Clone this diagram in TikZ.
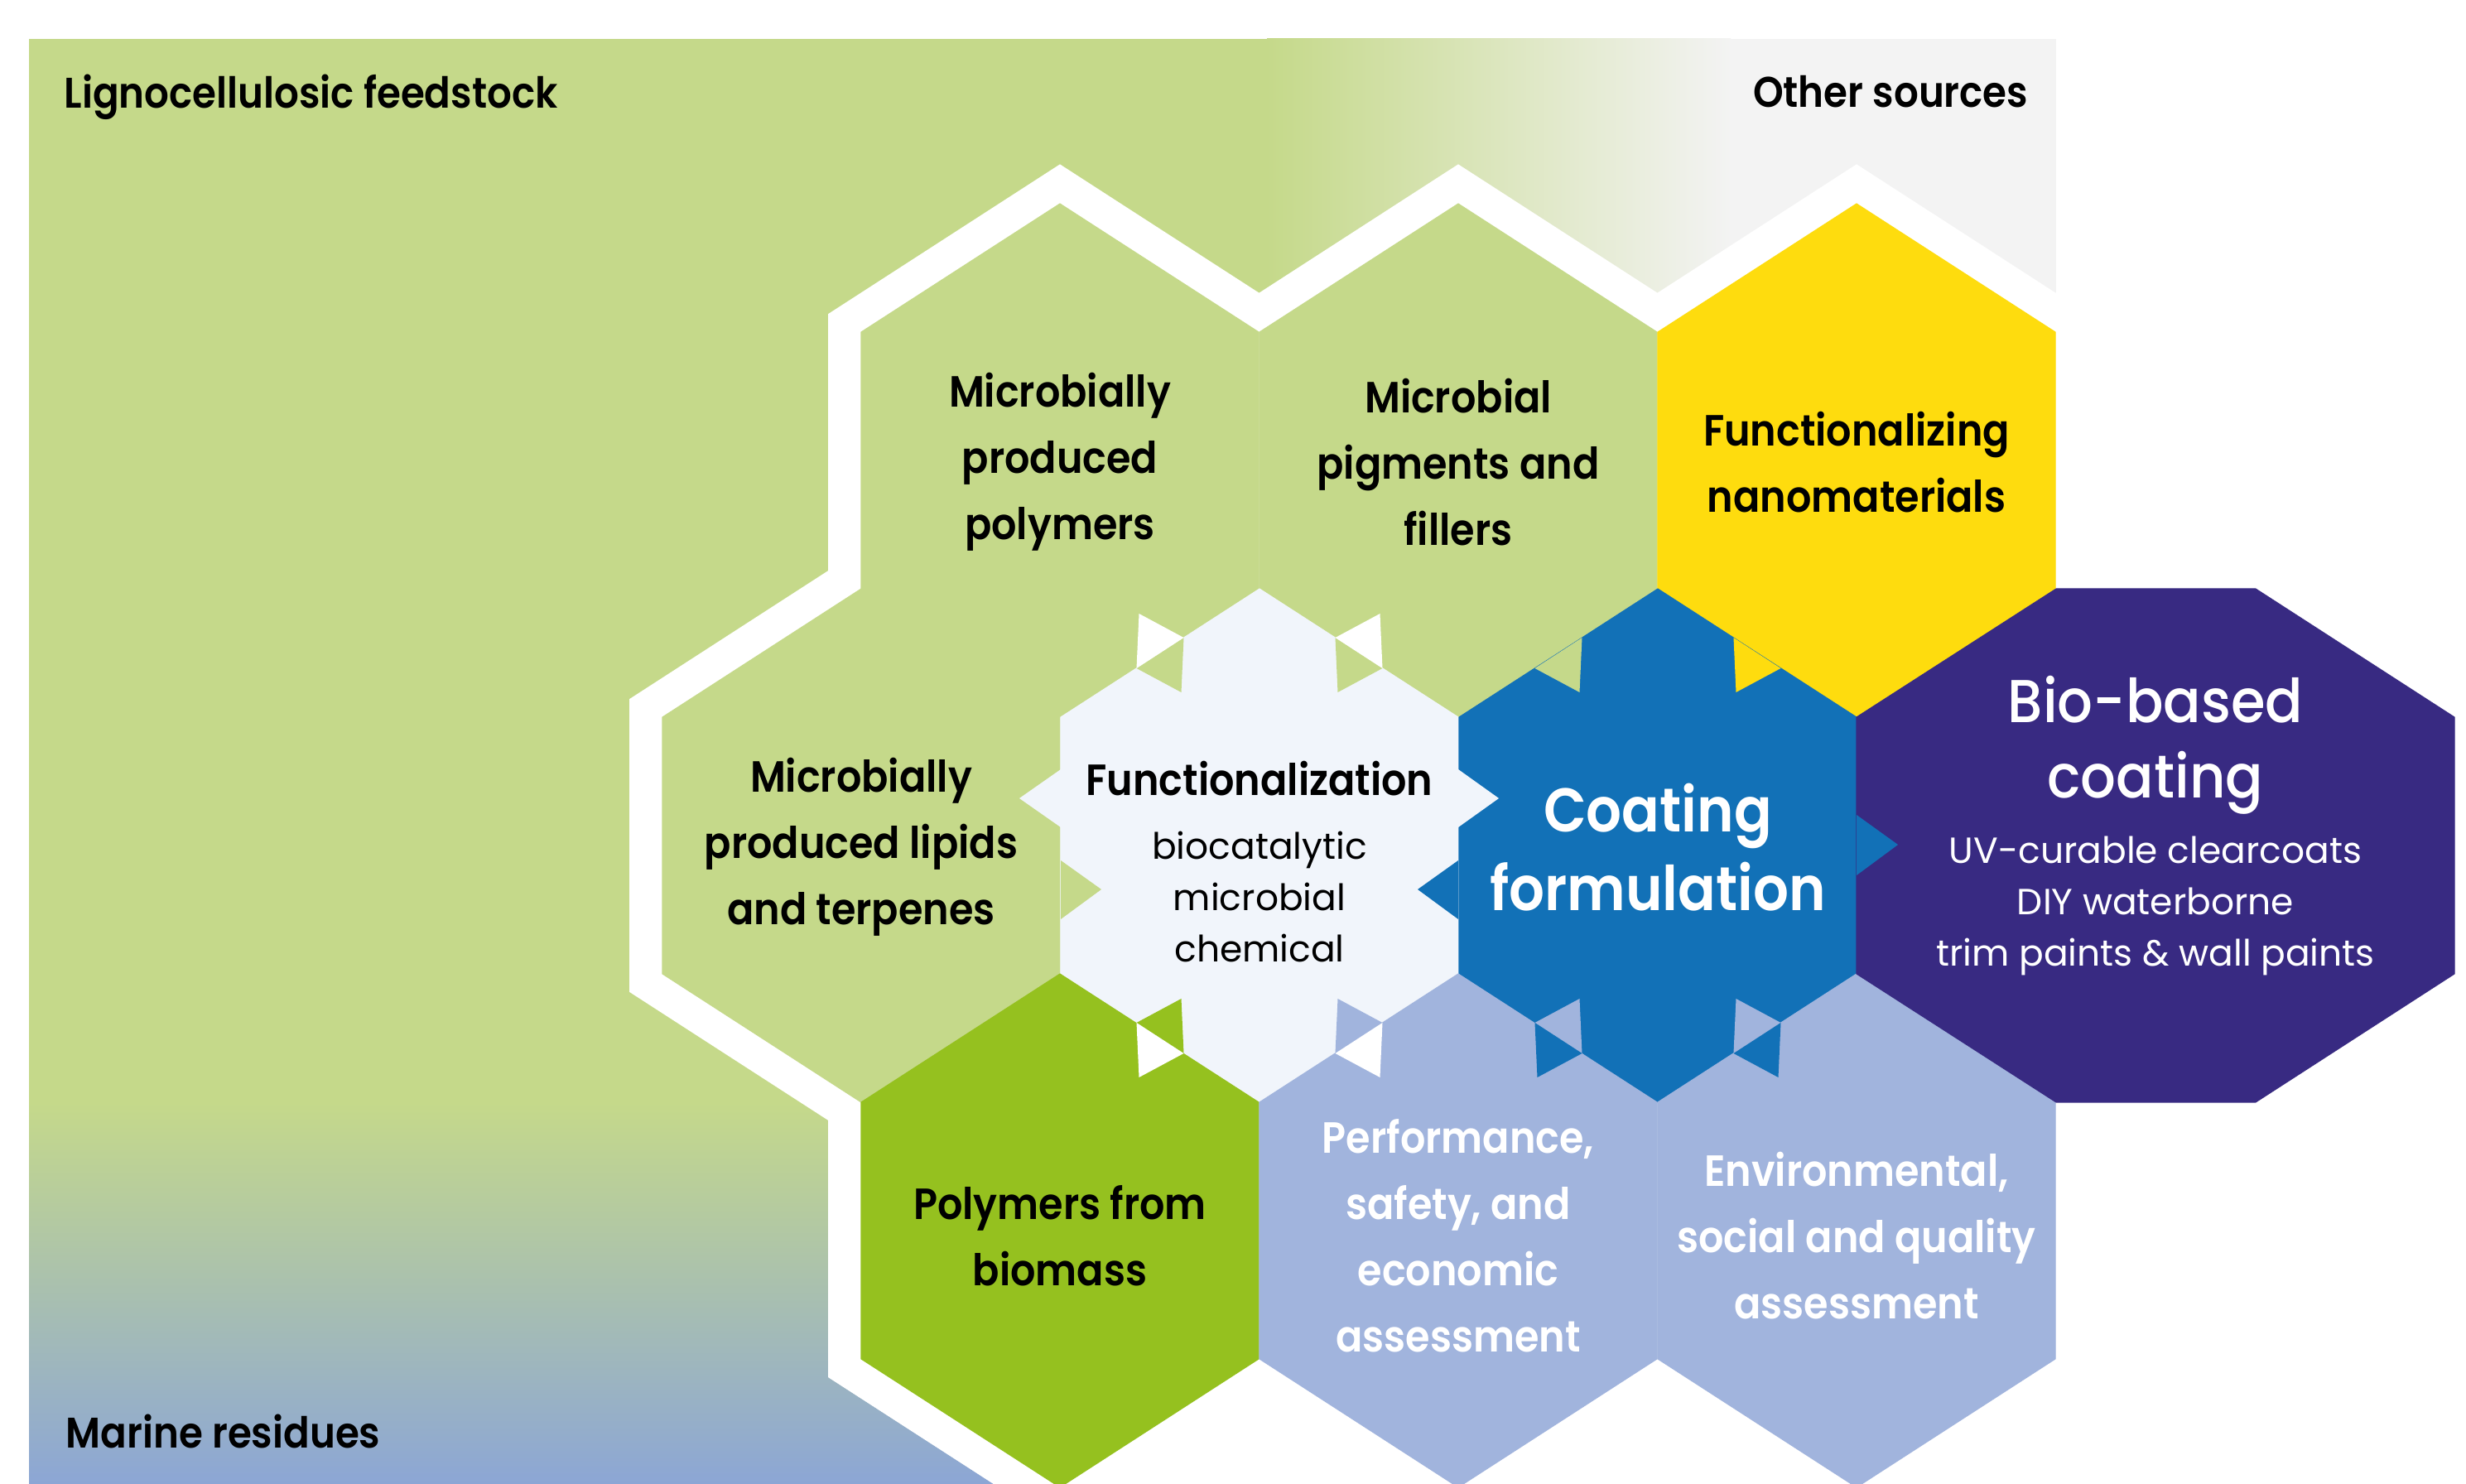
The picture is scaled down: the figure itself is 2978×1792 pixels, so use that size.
\documentclass[tikz,border=0pt]{standalone}
\usepackage{fontspec}
\setmainfont{Poppins}
\newfontfamily\poppinsSemi{Poppins SemiBold}[FakeStretch=0.905]
\newfontfamily\poppinsMed{Poppins Medium}[FakeStretch=0.92]
\usepackage{xcolor}
\usepackage{tikz}
\definecolor{leafgreen}{HTML}{C5D98A}
\definecolor{greyzone}{HTML}{F3F3F3}
\definecolor{seablue}{HTML}{8CA6D5}
\definecolor{limegreen}{HTML}{95C11F}
\definecolor{sunyellow}{HTML}{FEDC0E}
\definecolor{coatblue}{HTML}{1271B7}
\definecolor{deepviolet}{HTML}{382A82}
\definecolor{paleblue}{HTML}{A1B4DD}
\definecolor{paleface}{HTML}{F1F5FB}

\begin{document}
\begin{tikzpicture}[x=0.1mm, y=-0.1mm,
  halo/.style={draw=white, line width=8mm, line join=miter},
  cornerlbl/.style={font=\poppinsSemi\fontsize{14.7}{18}\selectfont, inner sep=0pt},
  hexlbl/.style={font=\poppinsSemi\fontsize{15}{22.8}\selectfont, align=center, inner sep=0pt},
  bodylbl/.style={font=\fontsize{12.5}{17.6}\selectfont, align=center, inner sep=0pt},
  biglbl/.style={font=\poppinsSemi\fontsize{21.2}{27}\selectfont, align=center, inner sep=0pt, text=white}]
\useasboundingbox (0,0) rectangle (2978,1792);
\fill[white] (0,0) rectangle (2978,1792);
\fill[leafgreen] (35,47) rectangle (2483,1792);
\shade[left color=leafgreen, right color=greyzone] (1530,47) rectangle (2090,1000);
\fill[greyzone] (2089,47) rectangle (2483,1000);
\shade[top color=leafgreen, bottom color=seablue] (35,1330) rectangle (1300,1792);
\fill[white] (1000,1330) -- (1000,1663) -- (1200,1792) -- (2978,1792) -- (2978,1330) -- cycle;
\node[cornerlbl, anchor=base west] (lignoLbl) at (77,131) {Lignocellulosic feedstock};
\node[cornerlbl, anchor=base east] (otherLbl) at (2450,130) {Other sources};
\node[cornerlbl, anchor=base west] (marineLbl) at (79,1748) {Marine residues};
\foreach \cx/\cy in {1280/556, 1761/556, 2242/556, 1040/1021, 1521/1021, 2002/1021, 1280/1486, 1761/1486, 2242/1486}
  \draw[halo] (\cx,\cy-310) -- (\cx+240,\cy-155) -- (\cx+240,\cy+155) -- (\cx,\cy+310) -- (\cx-240,\cy+155) -- (\cx-240,\cy-155) -- cycle;
\foreach \cx/\cy/\hcol in {1280/556/leafgreen, 1761/556/leafgreen, 2242/556/sunyellow, 1040/1021/leafgreen, 1521/1021/paleface, 2002/1021/coatblue, 1280/1486/limegreen, 1761/1486/paleblue, 2242/1486/paleblue}
  \filldraw[fill=\hcol, draw=\hcol, line width=0.3pt] (\cx,\cy-310) -- (\cx+240,\cy-155) -- (\cx+240,\cy+155) -- (\cx,\cy+310) -- (\cx-240,\cy+155) -- (\cx-240,\cy-155) -- cycle;
\filldraw[fill=deepviolet, draw=deepviolet, line width=0.3pt] (2242,866) -- (2483,711) -- (2724,711) -- (2964,866) -- (2964,1176) -- (2724,1331) -- (2483,1331) -- (2242,1176) -- cycle;
% tabs round the functionalization hex
\fill[leafgreen] (1429.5,770) -- (1372.5,807) -- (1426.5,836) -- cycle;
\fill[white] (1429.5,770) -- (1372.5,807) -- (1375.5,741) -- cycle;
\fill[leafgreen] (1612.5,770) -- (1669.5,807) -- (1615.5,836) -- cycle;
\fill[white] (1612.5,770) -- (1669.5,807) -- (1666.5,741) -- cycle;
\fill[limegreen] (1429.5,1272) -- (1372.5,1235) -- (1426.5,1206) -- cycle;
\fill[white] (1429.5,1272) -- (1372.5,1235) -- (1375.5,1301) -- cycle;
\fill[paleblue] (1612.5,1272) -- (1669.5,1235) -- (1615.5,1206) -- cycle;
\fill[white] (1612.5,1272) -- (1669.5,1235) -- (1666.5,1301) -- cycle;
\fill[paleface] (1281,929) -- (1231,964) -- (1281,999) -- cycle;
\fill[leafgreen] (1281,1039) -- (1330,1074) -- (1281,1110) -- cycle;
\fill[paleface] (1761,929) -- (1810,964) -- (1761,999) -- cycle;
\fill[coatblue] (1761,1039) -- (1712,1074) -- (1761,1110) -- cycle;
% tabs round the coating hex
\fill[leafgreen] (1910.5,770) -- (1853.5,807) -- (1907.5,836) -- cycle;
\fill[sunyellow] (2093.5,770) -- (2150.5,807) -- (2096.5,836) -- cycle;
\fill[paleblue] (1910.5,1272) -- (1853.5,1235) -- (1907.5,1206) -- cycle;
\fill[coatblue] (1910.5,1272) -- (1853.5,1235) -- (1856.5,1301) -- cycle;
\fill[paleblue] (2093.5,1272) -- (2150.5,1235) -- (2096.5,1206) -- cycle;
\fill[coatblue] (2093.5,1272) -- (2150.5,1235) -- (2147.5,1301) -- cycle;
\fill[coatblue] (2242,984) -- (2292,1020) -- (2242,1057) -- cycle;
\node[hexlbl] (polyLbl) at (1280,558) {Microbially\\produced\\polymers};
\node[hexlbl] (pigmLbl) at (1761,558) {Microbial\\pigments and\\fillers};
\node[hexlbl] (nanoLbl) at (2242,558) {Functionalizing\\nanomaterials};
\node[hexlbl] (lipidLbl) at (1040,1023) {Microbially\\produced lipids\\and terpenes};
\node[hexlbl] (funcLbl) at (1521,940) {Functionalization};
\node[bodylbl] (funcBody) at (1521,1083) {biocatalytic\\microbial\\chemical};
\node[biglbl] (coatLbl) at (2002,1023) {Coating\\formulation};
\node[biglbl, font=\poppinsMed\fontsize{20.8}{26}\selectfont] (bioLbl) at (2603,900) {Bio-based\\coating};
\node[bodylbl, text=white] (bioBody) at (2603,1094) {UV-curable clearcoats\\DIY waterborne\\trim paints \& wall paints};
\node[hexlbl] (biomLbl) at (1280,1492) {Polymers from\\biomass};
\node[hexlbl, text=white] (perfLbl) at (1761,1492) {Performance,\\safety, and\\economic\\assessment};
\node[hexlbl, text=white] (envLbl) at (2242,1492) {Environmental,\\social and quality\\assessment};
\end{tikzpicture}
\end{document}
